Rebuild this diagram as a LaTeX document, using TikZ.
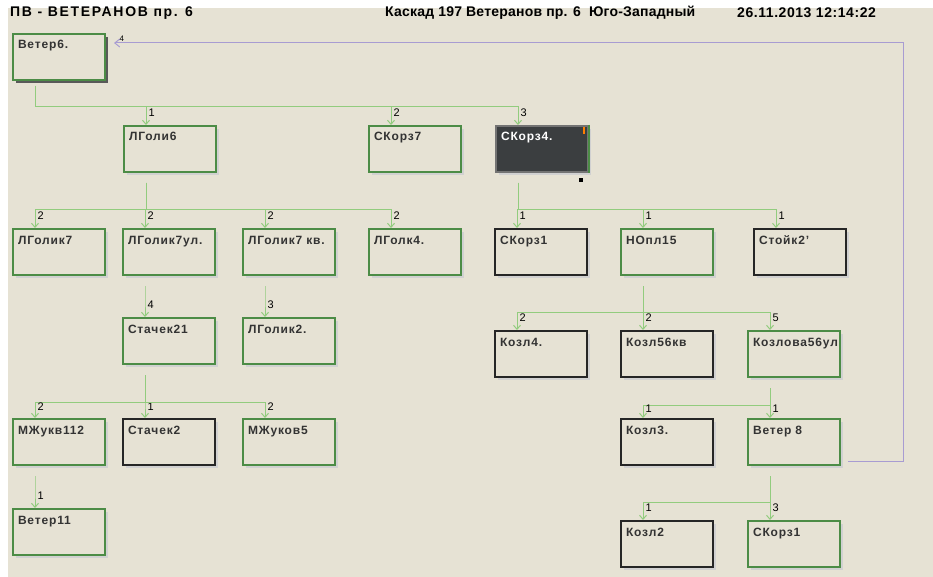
\documentclass[tikz,border=0pt]{standalone}
\usepackage{fontspec}
\setmainfont{Liberation Sans}
\usetikzlibrary{arrows.meta,shadows}

\definecolor{bg}{HTML}{E6E2D4}
\definecolor{boxgreen}{HTML}{4C8C46}
\definecolor{linkgreen}{HTML}{92CC7E}
\definecolor{backviolet}{HTML}{A89CD2}
\definecolor{boxdark}{HTML}{3B3E40}

\tikzset{
  plain/.style={draw=boxgreen, line width=2pt, fill=bg, anchor=north west,
    minimum width=92pt, minimum height=46pt, inner xsep=5pt, inner ysep=4pt,
    text width=82pt, align=left, text height=11pt, text depth=27pt,
    font=\fontsize{12}{14}\selectfont\bfseries\addfontfeature{LetterSpace=7}, text=black!80},
  box/.style={plain, drop shadow={shadow xshift=3pt, shadow yshift=-3pt, fill=black!18, opacity=1}},
  blackbox/.style={box, draw=black!85},
  darkbox/.style={box, draw=black!55, fill=boxdark, text=white},
  rootbox/.style={plain, drop shadow={shadow xshift=3pt, shadow yshift=-3pt, fill=black!65, opacity=1}},
  link/.style={draw=linkgreen, line width=1pt, -{Straight Barb[length=4pt,width=7pt]}},
  backlink/.style={draw=backviolet, line width=1pt, -{Straight Barb[length=5pt,width=8pt]}},
  num/.style={font=\fontsize{11}{13}\selectfont, anchor=west, inner sep=1pt, xshift=1pt},
  title/.style={font=\fontsize{14}{16}\selectfont\bfseries, anchor=west, inner sep=0pt}
}

\begin{document}
\begin{tikzpicture}[x=1pt,y=-1pt]
\useasboundingbox (0,0) rectangle (933,577);
\fill[white] (0,0) rectangle (933,577);
\fill[bg] (8,8) rectangle (933,577);

% header
\path (10,13) node[title] (head) {\addfontfeature{LetterSpace=12}ПВ - ВЕТЕРАНОВ пр. 6}
      (385,13) node[title] (cascade) {\addfontfeature{LetterSpace=1.5}Каскад 197 Ветеранов пр. 6 \ Юго-Западный}
      (737,13) node[title] (stamp) {\addfontfeature{LetterSpace=4}26.11.2013 12:14:22};

% boxes
\path (12,33) node[rootbox, minimum width=88pt] (vet6) {Ветер6.}
      (123,125) node[box] (lgol6) {ЛГоли6}
      (368,125) node[box] (skor7) {СКорз7}
      (495,125) node[darkbox] (skor4) {СКорз4.}
      (12,228) node[box, minimum width=88pt] (lgk7) {ЛГолик7}
      (122,228) node[box] (lgk7ul) {ЛГолик7ул.}
      (242,228) node[box] (lgk7kv) {ЛГолик7~кв.}
      (368,228) node[box] (lgk4) {ЛГолк4.}
      (494,228) node[blackbox] (skor1) {СКорз1}
      (620,228) node[box] (nopl15) {НОпл15}
      (753,228) node[blackbox] (stoyk2) {Стойк2'}
      (122,317) node[box] (stach21) {Стачек21}
      (242,317) node[box] (lgk2) {ЛГолик2.}
      (12,418) node[box, minimum width=88pt] (mzh112) {МЖукв112}
      (122,418) node[blackbox] (stach2) {Стачек2}
      (242,418) node[box] (mzh5) {МЖуков5}
      (12,508) node[box, minimum width=88pt] (vet11) {Ветер11}
      (494,330) node[blackbox] (kozl4) {Козл4.}
      (620,330) node[blackbox] (kozl56kv) {Козл56кв}
      (747,330) node[box] (kozlova) {Козлова56ул}
      (620,418) node[blackbox] (kozl3) {Козл3.}
      (747,418) node[box] (vet8) {Ветер 8}
      (620,520) node[blackbox] (kozl2) {Козл2}
      (747,520) node[box] (skor1b) {СКорз1};

% marks on the dark box
\draw[boxgreen, line width=2pt] (skor4.north east) -- (skor4.south east);
\fill[orange] ([xshift=-6pt,yshift=-2pt]skor4.north east) rectangle ++(2,7);
\fill[black] ([xshift=-10pt,yshift=-5pt]skor4.south east) rectangle ++(4,4);

% links
\foreach \c/\n in {lgol6/1, skor7/2, skor4/3}
  \draw[link] ([xshift=23pt,yshift=-5pt]vet6.south west) |- ([xshift=23pt,yshift=18pt]\c.north west) -- node[num,pos=.3]{\n} ([xshift=23pt]\c.north west);
\foreach \c/\n in {lgk7/2, lgk7ul/2, lgk7kv/2, lgk4/2}
  \draw[link] ([xshift=23pt,yshift=-10pt]lgol6.south west) |- ([xshift=23pt,yshift=18pt]\c.north west) -- node[num,pos=.3]{\n} ([xshift=23pt]\c.north west);
\foreach \c/\n in {skor1/1, nopl15/1, stoyk2/1}
  \draw[link] ([xshift=23pt,yshift=-10pt]skor4.south west) |- ([xshift=23pt,yshift=18pt]\c.north west) -- node[num,pos=.3]{\n} ([xshift=23pt]\c.north west);
\draw[link] ([xshift=23pt,yshift=-10pt]lgk7ul.south west) |- ([xshift=23pt,yshift=18pt]stach21.north west) -- node[num,pos=.3]{4} ([xshift=23pt]stach21.north west);
\draw[link] ([xshift=23pt,yshift=-10pt]lgk7kv.south west) |- ([xshift=23pt,yshift=18pt]lgk2.north west) -- node[num,pos=.3]{3} ([xshift=23pt]lgk2.north west);
\foreach \c/\n in {mzh112/2, stach2/1, mzh5/2}
  \draw[link] ([xshift=23pt,yshift=-10pt]stach21.south west) |- ([xshift=23pt,yshift=16pt]\c.north west) -- node[num,pos=.3]{\n} ([xshift=23pt]\c.north west);
\draw[link] ([xshift=23pt,yshift=-10pt]mzh112.south west) |- ([xshift=23pt,yshift=17pt]vet11.north west) -- node[num,pos=.3]{1} ([xshift=23pt]vet11.north west);
\foreach \c/\n in {kozl4/2, kozl56kv/2, kozlova/5}
  \draw[link] ([xshift=23pt,yshift=-10pt]nopl15.south west) |- ([xshift=23pt,yshift=18pt]\c.north west) -- node[num,pos=.3]{\n} ([xshift=23pt]\c.north west);
\foreach \c/\n in {kozl3/1, vet8/1}
  \draw[link] ([xshift=23pt,yshift=-10pt]kozlova.south west) |- ([xshift=23pt,yshift=13pt]\c.north west) -- node[num,pos=.3]{\n} ([xshift=23pt]\c.north west);
\foreach \c/\n in {kozl2/1, skor1b/3}
  \draw[link] ([xshift=23pt,yshift=-10pt]vet8.south west) |- ([xshift=23pt,yshift=18pt]\c.north west) -- node[num,pos=.3]{\n} ([xshift=23pt]\c.north west);

% link back to the root
\coordinate (rtop) at (903,43);
\draw[backlink] ([xshift=7pt,yshift=5pt]vet8.south east) -| (rtop) -- node[num, pos=1, anchor=south west, xshift=3pt, font=\fontsize{8}{9}\selectfont]{4} ([xshift=8pt,yshift=-10pt]vet6.north east);
\end{tikzpicture}
\end{document}
